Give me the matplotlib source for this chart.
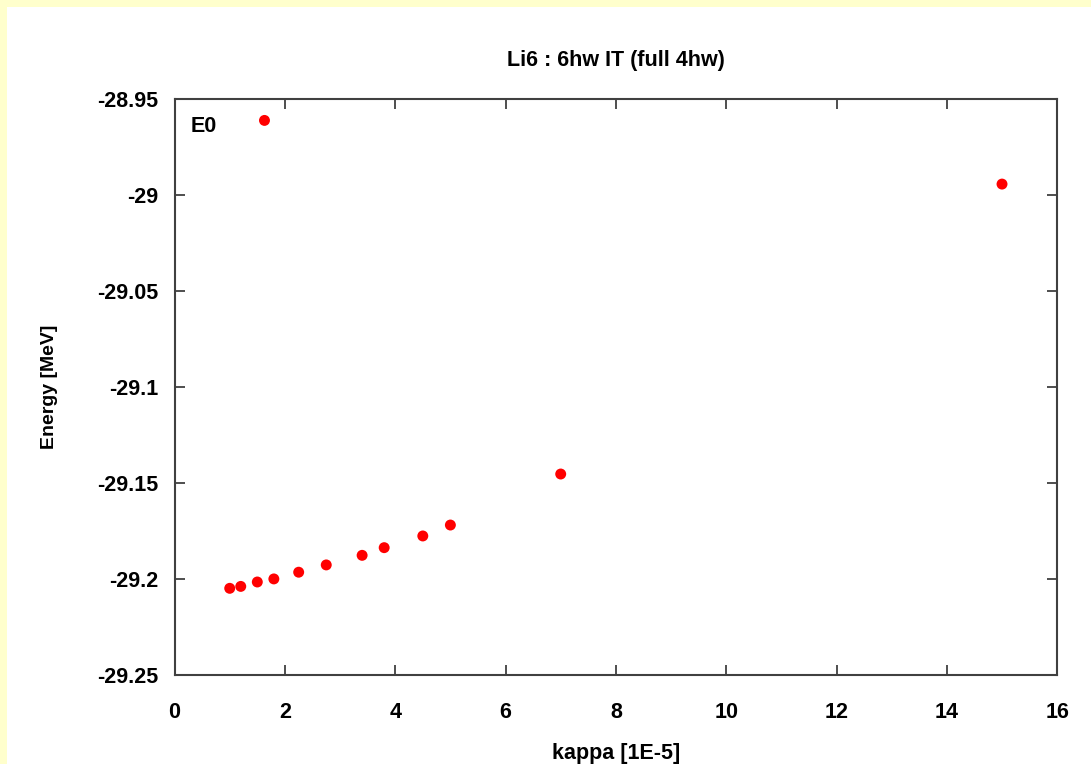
import matplotlib.pyplot as plt
from matplotlib.patches import Rectangle

kappa = [1.0, 1.2, 1.5, 1.8, 2.25, 2.75, 3.4, 3.8, 4.5, 5.0, 7.0, 15.0, 1.63]
energy = [-29.2050, -29.2040, -29.2017, -29.2001, -29.1966, -29.1928, -29.1878,
          -29.1838, -29.1777, -29.1720, -29.1454, -28.9942, -28.9610]

xticks = [0, 2, 4, 6, 8, 10, 12, 14, 16]
yticks = [-29.25, -29.2, -29.15, -29.1, -29.05, -29.0, -28.95]
ytick_labels = ['-29.25', '-29.2', '-29.15', '-29.1', '-29.05', '-29', '-28.95']

plt.rcParams['font.family'] = ['Liberation Sans', 'DejaVu Sans']
plt.rcParams['font.weight'] = 'bold'

fig = plt.figure(figsize=(10.91, 7.64), dpi=100, facecolor='white')
# yellow strips on the left and top edge
fig.patches.append(Rectangle((0, 0), 7 / 1091, 1, transform=fig.transFigure,
                             facecolor='#ffffcc', edgecolor='none', zorder=0))
fig.patches.append(Rectangle((0, 1 - 7 / 764), 1, 7 / 764, transform=fig.transFigure,
                             facecolor='#ffffcc', edgecolor='none', zorder=0))

ax = fig.add_axes([0.16, 0.117, 0.809, 0.753])
ax.scatter(kappa, energy, s=62, color='#ff0000', edgecolors='none', zorder=3)

ax.set_xlim(0, 16)
ax.set_ylim(-29.25, -28.95)
ax.set_xticks(xticks)
ax.set_yticks(yticks)
ax.set_yticklabels(ytick_labels)

for sp in ax.spines.values():
    sp.set_color('#404040')
    sp.set_linewidth(1.5)
ax.tick_params(direction='in', length=7, width=1.3, color='#404040',
               top=True, right=True, labelsize=15.5)
ax.tick_params(axis='x', pad=20)
ax.tick_params(axis='y', pad=12)
for lab in ax.get_xticklabels() + ax.get_yticklabels():
    lab.set_fontweight('bold')

ax.set_title('Li6 : 6hw IT (full 4hw)', fontsize=15.5, fontweight='bold', pad=24)
ax.set_xlabel('kappa [1E-5]', fontsize=15.5, fontweight='bold', labelpad=14)
ax.set_ylabel('Energy [MeV]', fontsize=14, fontweight='bold', labelpad=28)
ax.text(0.018, 0.953, 'E0', transform=ax.transAxes, fontsize=15.5,
        fontweight='bold', va='center', ha='left')

fig.savefig('out.png', dpi=100, facecolor=fig.get_facecolor())
